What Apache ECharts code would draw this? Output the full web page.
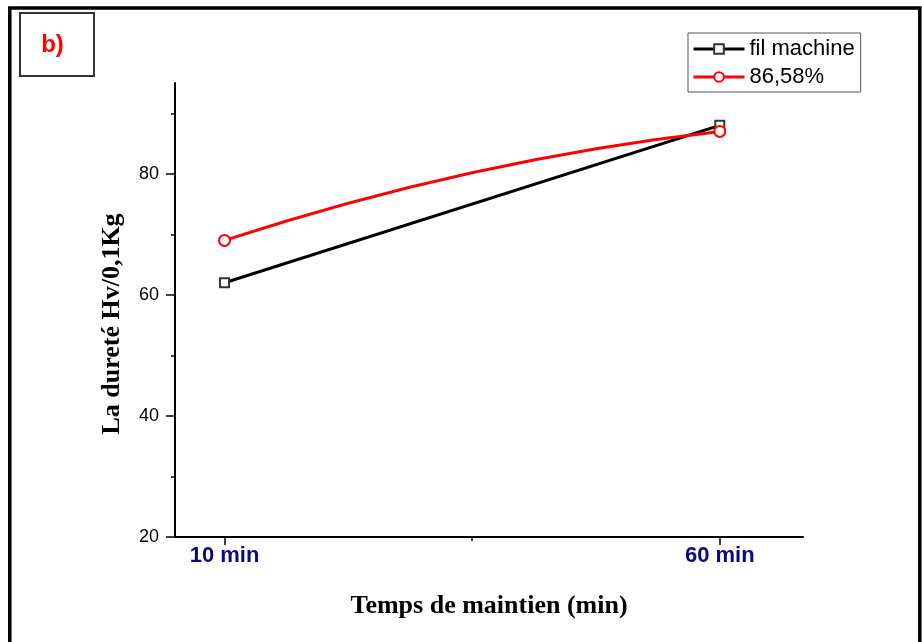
<!DOCTYPE html>
<html>
<head>
<meta charset="utf-8">
<script src="https://cdn.jsdelivr.net/npm/echarts@6/dist/echarts.min.js"></script>
<style>
  html, body { margin: 0; padding: 0; background: #fff; }
  #chart { width: 922px; height: 642px; }
</style>
</head>
<body>
<div id="chart"></div>
<script>
// ---- data ----
const times = [10, 60];
const timeLabels = ['10 min', '60 min'];
const filMachine = [62, 88];
const pct8658 = [69, 87];
const seriesNames = ['fil machine', '86,58%'];
const yTickValues = [20, 40, 60, 80];
const yMinorTickValues = [30, 50, 70, 90];
const xMinorTickValues = [35];
const panelLabel = 'b)';
const yTitle = 'La dureté Hv/0,1Kg';
const xTitle = 'Temps de maintien (min)';

// ---- style ----
const curveBend = 0.744; // control-point position (fraction) for the smooth red curve

const chart = echarts.init(document.getElementById('chart'), null, { renderer: 'canvas' });

const option = {
  backgroundColor: '#fff',
  animation: false,
  grid: { left: 175, right: 119, top: 83, bottom: 105, outerBoundsMode: 'none' },
  xAxis: [
    {
      type: 'value', min: 5, max: 68.4, position: 'bottom',
      axisLine: { show: true, onZero: false, lineStyle: { color: '#000', width: 2 } },
      axisTick: { show: true, customValues: times, length: 8, lineStyle: { color: '#000', width: 1.5 } },
      axisLabel: {
        show: true, customValues: times, margin: 8,
        formatter: v => timeLabels[times.indexOf(v)],
        color: '#0a0a80', fontSize: 22, fontWeight: 'bold', fontFamily: 'Liberation Sans, Arial, sans-serif'
      },
      splitLine: { show: false },
      name: xTitle, nameLocation: 'middle', nameGap: 56,
      nameTextStyle: { color: '#000', fontSize: 26, fontWeight: 'bold', fontFamily: 'Liberation Serif, Times New Roman, serif' }
    },
    {
      type: 'value', min: 5, max: 68.4, position: 'bottom',
      axisLine: { show: false },
      axisTick: { show: true, customValues: xMinorTickValues, length: 4, lineStyle: { color: '#000', width: 1.5 } },
      axisLabel: { show: false },
      splitLine: { show: false }
    }
  ],
  yAxis: [
    {
      type: 'value', min: 20, max: 95, position: 'left',
      axisLine: { show: true, onZero: false, lineStyle: { color: '#000', width: 2 } },
      axisTick: { show: true, customValues: yTickValues, length: 9, lineStyle: { color: '#000', width: 1.5 } },
      axisLabel: {
        show: true, customValues: yTickValues, margin: 16,
        color: '#000', fontSize: 18, fontFamily: 'Liberation Sans, Arial, sans-serif'
      },
      splitLine: { show: false }
    },
    {
      type: 'value', min: 20, max: 95, position: 'left',
      axisLine: { show: false },
      axisTick: { show: true, customValues: yMinorTickValues, length: 4, lineStyle: { color: '#000', width: 1.5 } },
      axisLabel: { show: false },
      splitLine: { show: false }
    }
  ],
  legend: {
    orient: 'vertical', left: 688, top: 33,
    padding: [5, 6, 4, 4], itemGap: 6,
    itemWidth: 51, itemHeight: 12,
    borderColor: '#555', borderWidth: 1, backgroundColor: '#fff',
    textStyle: { color: '#000', fontSize: 22, fontFamily: 'Liberation Sans, Arial, sans-serif' },
    data: [
      { name: seriesNames[0], lineStyle: { color: '#000', width: 3, opacity: 1 } },
      { name: seriesNames[1], lineStyle: { color: '#ff0000', width: 3, opacity: 1 } }
    ]
  },
  series: [
    {
      name: seriesNames[0], type: 'line', xAxisIndex: 0, yAxisIndex: 0,
      data: times.map((t, i) => [t, filMachine[i]]),
      symbol: 'emptyRect', symbolSize: 9,
      itemStyle: { color: '#333', borderWidth: 1.5 },
      lineStyle: { color: '#000', width: 3 },
      z: 3
    },
    {
      name: 'curve-86', type: 'custom', xAxisIndex: 0, yAxisIndex: 0,
      data: [[times[0], pct8658[0], times[1], pct8658[1]]],
      encode: { x: [0, 2], y: [1, 3] },
      renderItem: function (params, api) {
        const p0 = api.coord([api.value(0), api.value(1)]);
        const p2 = api.coord([api.value(2), api.value(3)]);
        const cx = (p0[0] + p2[0]) / 2;
        const cy = p0[1] + (p2[1] - p0[1]) * curveBend;
        return {
          type: 'bezierCurve',
          shape: { x1: p0[0], y1: p0[1], x2: p2[0], y2: p2[1], cpx1: cx, cpy1: cy },
          style: { stroke: '#ff0000', lineWidth: 3, fill: null }
        };
      },
      silent: true,
      z: 4
    },
    {
      name: seriesNames[1], type: 'line', xAxisIndex: 0, yAxisIndex: 0,
      data: times.map((t, i) => [t, pct8658[i]]),
      symbol: 'emptyCircle', symbolSize: 11,
      itemStyle: { color: '#ff0000', borderWidth: 1 },
      lineStyle: { color: '#ff0000', width: 3, opacity: 0 },
      z: 5
    }
  ],
  graphic: [
    {
      type: 'rect', shape: { x: 9.8, y: 8, width: 910, height: 660 },
      style: { fill: null, stroke: '#000', lineWidth: 3.5 }, silent: true, z: 100
    },
    {
      type: 'rect', shape: { x: 20, y: 13, width: 74, height: 63 },
      style: { fill: null, stroke: '#333', lineWidth: 2 }, silent: true, z: 100
    },
    {
      type: 'text', x: 52.5, y: 45,
      style: {
        text: panelLabel, fill: '#ff0000', fontSize: 24, fontWeight: 'bold',
        fontFamily: 'Liberation Sans, Arial, sans-serif', align: 'center', verticalAlign: 'middle'
      },
      z: 100
    },
    {
      type: 'text', x: 112, y: 324, rotation: Math.PI / 2,
      style: {
        text: yTitle, fill: '#000', fontSize: 26, fontWeight: 'bold',
        fontFamily: 'Liberation Serif, Times New Roman, serif', align: 'center', verticalAlign: 'middle'
      },
      z: 100
    }
  ]
};

chart.setOption(option);
</script>
</body>
</html>
